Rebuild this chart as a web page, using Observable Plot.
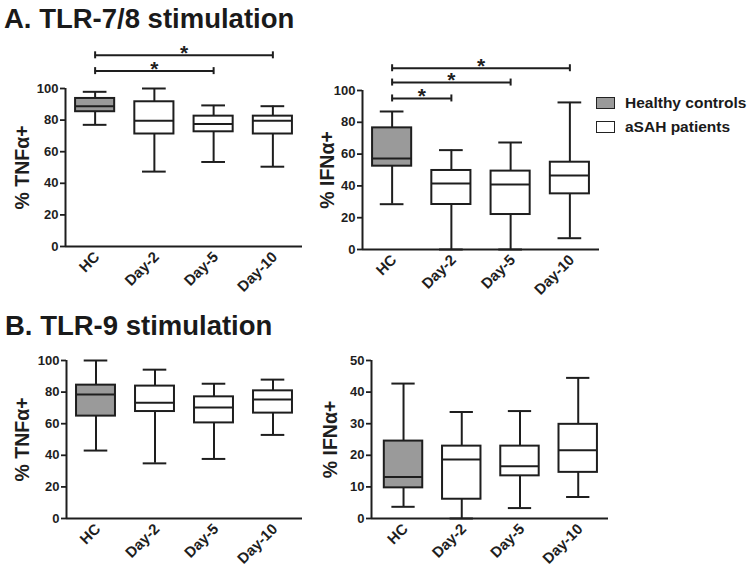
<!DOCTYPE html>
<html><head><meta charset="utf-8">
<script src="https://cdn.jsdelivr.net/npm/d3@7"></script>
<script src="https://cdn.jsdelivr.net/npm/@observablehq/plot@0.6"></script>
<style>
body{margin:0;background:#fff;}
#chart{position:relative;width:747px;height:571px;overflow:hidden;font-family:"Liberation Sans",Arial,sans-serif;font-weight:bold;color:#1a1a1a;background:#fff;}
.title{position:absolute;font-size:27.5px;font-weight:bold;white-space:nowrap;line-height:1;}
.panel{position:absolute;}
.panel svg{overflow:visible;}
.panel g[aria-label="y-axis label"] text{font-size:19.5px;}
.legend{position:absolute;left:596px;top:91px;font-size:15.5px;}
.legend .row{display:flex;align-items:center;height:24px;}
.legend .sw{width:17px;height:10px;border:1.5px solid #222;margin-right:10px;}
</style></head>
<body><div id="chart">
<div class="title" style="left:4px;top:5px">A. TLR-7/8 stimulation</div>
<div class="title" style="left:5px;top:312px">B. TLR-9 stimulation</div>
<div class="panel" id="p1" style="left:0;top:40px"></div>
<div class="panel" id="p2" style="left:310px;top:40px"></div>
<div class="panel" id="p3" style="left:0;top:340px"></div>
<div class="panel" id="p4" style="left:310px;top:340px"></div>
<div class="legend">
  <div class="row"><div class="sw" style="background:#9a9a9a"></div>Healthy controls</div>
  <div class="row"><div class="sw" style="background:#fff"></div>aSAH patients</div>
</div>
</div>
<script>
const categories = ["HC", "Day-2", "Day-5", "Day-10"];

// A. TLR-7/8 — % TNFα+
const a_tnf_min = [77, 47.4, 53.5, 50.5];
const a_tnf_q1  = [85.3, 71.2, 72.6, 71.2];
const a_tnf_med = [88.8, 79.6, 77.5, 79.6];
const a_tnf_q3  = [93.7, 91.6, 82.5, 82.5];
const a_tnf_max = [97.9, 100, 89.3, 88.8];
const a_tnf_sig = [{from: "HC", to: "Day-10", y: 121}, {from: "HC", to: "Day-5", y: 111}];

// A. TLR-7/8 — % IFNα+
const a_ifn_min = [28.5, 0, 0, 7.1];
const a_ifn_q1  = [52.4, 28.3, 22, 35];
const a_ifn_med = [57.2, 41.5, 40.9, 46.5];
const a_ifn_q3  = [76.5, 49.7, 49.3, 54.9];
const a_ifn_max = [86.8, 62.5, 67.3, 92.5];
const a_ifn_sig = [{from: "HC", to: "Day-10", y: 114}, {from: "HC", to: "Day-5", y: 105}, {from: "HC", to: "Day-2", y: 95}];

// B. TLR-9 — % TNFα+
const b_tnf_min = [43, 34.9, 37.7, 52.9];
const b_tnf_q1  = [64.8, 67.7, 60.5, 66.7];
const b_tnf_med = [78.5, 73.2, 70.3, 75.3];
const b_tnf_q3  = [84.4, 83.8, 77, 80.8];
const b_tnf_max = [100, 94.2, 85.3, 87.9];

// B. TLR-9 — % IFNα+
const b_ifn_min = [3.7, 0, 3.3, 6.8];
const b_ifn_q1  = [9.7, 6.1, 13.5, 14.6];
const b_ifn_med = [13.1, 18.7, 16.5, 21.6];
const b_ifn_q3  = [24.5, 22.9, 22.9, 29.8];
const b_ifn_max = [42.7, 33.7, 34, 44.5];

const yTicks100 = [0, 20, 40, 60, 80, 100];
const yTicks50 = [0, 10, 20, 30, 40, 50];

const INK = "#1e1e1e";
const GRAY = "#9a9a9a";
const FONT = {fontFamily: "'Liberation Sans', Arial, sans-serif", fontWeight: "bold", color: INK, background: "transparent", overflow: "visible"};

function panel(el, cfg) {
  const {mins, q1s, meds, q3s, maxs, sig = [], yDomain, yTicks, label, labelOffset,
         width, height, marginLeft, marginRight, marginTop, marginBottom, xDomain} = cfg;
  const rows = categories.map((c, i) => ({i, c, min: mins[i], q1: q1s[i], med: meds[i], q3: q3s[i], max: maxs[i]}));
  const boxHalf = 0.33, capHalf = 0.2;
  const pxPerUnit = (height - marginTop - marginBottom) / (yDomain[1] - yDomain[0]);
  const tick = 3.5 / pxPerUnit;
  const idx = (c) => categories.indexOf(c);
  const ends = sig.flatMap(s => [{x: idx(s.from), y: s.y}, {x: idx(s.to), y: s.y}]);
  const sw = 2;
  const p = Plot.plot({
    width, height, marginLeft, marginRight, marginTop, marginBottom,
    style: FONT,
    x: {type: "linear", domain: xDomain},
    y: {domain: yDomain},
    marks: [
      Plot.ruleX(rows, {x: "i", y1: "min", y2: "max", stroke: INK, strokeWidth: sw}),
      Plot.ruleY(rows, {x1: d => d.i - capHalf, x2: d => d.i + capHalf, y: "min", stroke: INK, strokeWidth: sw}),
      Plot.ruleY(rows, {x1: d => d.i - capHalf, x2: d => d.i + capHalf, y: "max", stroke: INK, strokeWidth: sw}),
      Plot.rectY(rows, {filter: d => d.i === 0, x1: d => d.i - boxHalf, x2: d => d.i + boxHalf, y1: "q1", y2: "q3", fill: GRAY, stroke: INK, strokeWidth: sw}),
      Plot.rectY(rows, {filter: d => d.i !== 0, x1: d => d.i - boxHalf, x2: d => d.i + boxHalf, y1: "q1", y2: "q3", fill: "white", stroke: INK, strokeWidth: sw}),
      Plot.ruleY(rows, {x1: d => d.i - boxHalf, x2: d => d.i + boxHalf, y: "med", stroke: INK, strokeWidth: sw}),
      Plot.ruleY([yDomain[0]], {stroke: INK, strokeWidth: sw}),
      Plot.ruleX([xDomain[0]], {y1: yDomain[0], y2: yDomain[1], stroke: INK, strokeWidth: sw}),
      Plot.axisY({ticks: yTicks, tickSize: 5, tickPadding: 2, fontSize: 13, strokeWidth: 1.8, stroke: INK,
                  label, labelAnchor: "center", labelOffset, labelArrow: "none"}),
      Plot.axisX({ticks: [0, 1, 2, 3], tickFormat: i => categories[i], tickRotate: -45, tickSize: 0, tickPadding: 8, fontSize: 15, dx: 2}),
      Plot.ruleY(sig, {x1: d => idx(d.from), x2: d => idx(d.to), y: "y", stroke: INK, strokeWidth: sw}),
      Plot.ruleX(ends, {x: "x", y1: d => d.y - tick, y2: d => d.y + tick, stroke: INK, strokeWidth: sw}),
      Plot.text(sig, {x: d => (idx(d.from) + idx(d.to)) / 2, y: "y", text: () => "*", fontSize: 21, dy: -2, fill: INK})
    ]
  });
  document.getElementById(el).appendChild(p);
}

panel("p1", {mins: a_tnf_min, q1s: a_tnf_q1, meds: a_tnf_med, q3s: a_tnf_q3, maxs: a_tnf_max, sig: a_tnf_sig,
  yDomain: [0, 100], yTicks: yTicks100, label: "% TNFα+", labelOffset: 50,
  width: 310, height: 266, marginLeft: 65, marginRight: 8, marginTop: 48, marginBottom: 60, xDomain: [-0.5, 3.5]});
panel("p2", {mins: a_ifn_min, q1s: a_ifn_q1, meds: a_ifn_med, q3s: a_ifn_q3, maxs: a_ifn_max, sig: a_ifn_sig,
  yDomain: [0, 100], yTicks: yTicks100, label: "% IFNα+", labelOffset: 42,
  width: 300, height: 269, marginLeft: 52, marginRight: 11, marginTop: 50, marginBottom: 60, xDomain: [-0.5, 3.5]});
panel("p3", {mins: b_tnf_min, q1s: b_tnf_q1, meds: b_tnf_med, q3s: b_tnf_q3, maxs: b_tnf_max,
  yDomain: [0, 100], yTicks: yTicks100, label: "% TNFα+", labelOffset: 51,
  width: 310, height: 231, marginLeft: 66, marginRight: 8, marginTop: 20, marginBottom: 53, xDomain: [-0.5, 3.5]});
panel("p4", {mins: b_ifn_min, q1s: b_ifn_q1, meds: b_ifn_med, q3s: b_ifn_q3, maxs: b_ifn_max,
  yDomain: [0, 50], yTicks: yTicks50, label: "% IFNα+", labelOffset: 48,
  width: 310, height: 231, marginLeft: 61, marginRight: 12, marginTop: 20, marginBottom: 53, xDomain: [-0.55, 3.52]});
</script>
</body></html>
